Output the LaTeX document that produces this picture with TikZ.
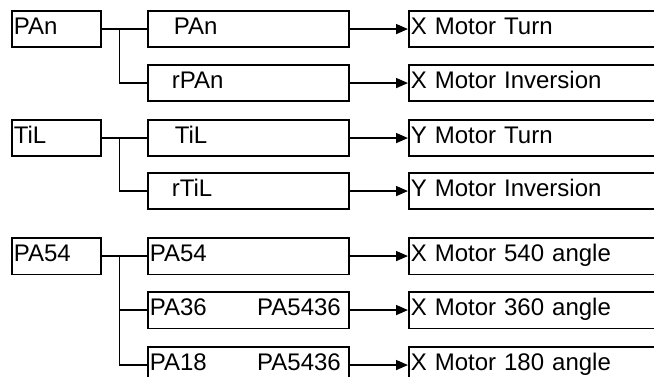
\documentclass[tikz,border=0pt]{standalone}
\usepackage{fontspec}
\setmainfont{Liberation Sans}
\usetikzlibrary{arrows.meta}
\begin{document}
\begin{tikzpicture}[x=1pt,y=-1pt,
  box/.style={draw, line width=1.6pt, rectangle, anchor=north west, inner xsep=2pt, inner ysep=0pt,
    minimum height=36.5pt, text height=16pt, text depth=5pt, align=left,
    font=\fontsize{24}{28}\selectfont},
  lbox/.style={box, text width=85pt},
  mbox/.style={box, text width=197pt},
  rbox/.style={box, text width=288pt},
  conn/.style={line width=1.6pt},
  arr/.style={line width=1.6pt, -{Triangle[length=12pt,width=10pt]}}]
\useasboundingbox (0,0) rectangle (654,377);
\clip (0,0) rectangle (654,377);
% group 1
\node[lbox] (l1) at (11,10) {PAn};
\node[mbox] (m1a) at (147,10) {\hspace*{24pt}PAn};
\node[mbox] (m1b) at (147,64) {\hspace*{22pt}rPAn};
\node[rbox] (r1a) at (408,10) {X Motor Turn};
\node[rbox] (r1b) at (408,64) {X Motor Inversion};
% group 2
\node[lbox] (l2) at (11,119) {TiL};
\node[mbox] (m2a) at (147,119) {\hspace*{25pt}TiL};
\node[mbox] (m2b) at (147,172) {\hspace*{22pt}rTiL};
\node[rbox] (r2a) at (408,119) {Y Motor Turn};
\node[rbox] (r2b) at (408,172) {Y Motor Inversion};
% group 3
\node[lbox] (l3) at (11,237) {PA54};
\node[mbox] (m3a) at (147,237) {PA54};
\node[mbox] (m3b) at (147,291) {PA36\hfill PA5436\hspace*{6pt}\mbox{}};
\node[mbox] (m3c) at (147,346) {PA18\hfill PA5436\hspace*{6pt}\mbox{}};
\node[rbox] (r3a) at (408,237) {X Motor 540 angle};
\node[rbox] (r3b) at (408,291) {X Motor 360 angle};
\node[rbox] (r3c) at (408,346) {X Motor 180 angle};
% junctions
\coordinate (j1) at ([xshift=18pt]l1.east);
\coordinate (j2) at ([xshift=18pt]l2.east);
\coordinate (j3) at ([xshift=18pt]l3.east);
\draw[conn] (l1.east) -- (j1) -- (m1a.west);
\draw[conn] (j1) |- (m1b.west);
\draw[conn] (l2.east) -- (j2) -- (m2a.west);
\draw[conn] (j2) |- (m2b.west);
\draw[conn] (l3.east) -- (j3) -- (m3a.west);
\draw[conn] (j3) |- (m3b.west);
\draw[conn] (j3) |- (m3c.west);
% arrows
\draw[arr] (m1a.east) -- (r1a.west);
\draw[arr] (m1b.east) -- (r1b.west);
\draw[arr] (m2a.east) -- (r2a.west);
\draw[arr] (m2b.east) -- (r2b.west);
\draw[arr] (m3a.east) -- (r3a.west);
\draw[arr] (m3b.east) -- (r3b.west);
\draw[arr] (m3c.east) -- (r3c.west);
\end{tikzpicture}
\end{document}
